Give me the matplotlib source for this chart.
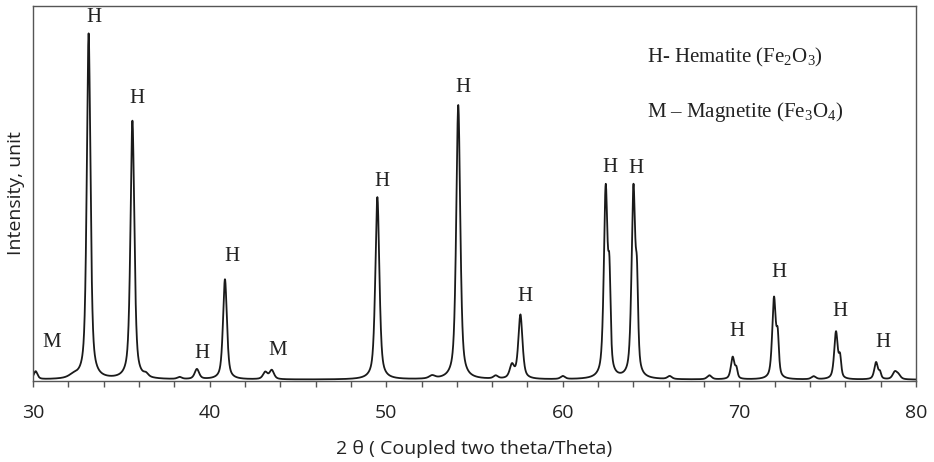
import numpy as np
import matplotlib
matplotlib.use("Agg")
import matplotlib.pyplot as plt

# ---- data ----
# peak positions (2theta, deg), heights (arb. units above baseline), FWHM (deg)
peak_pos = [30.15, 32.3, 33.15, 35.63, 36.4, 38.3, 39.28, 40.87, 43.15, 43.52,
            49.50, 52.6, 54.08, 56.2, 57.12, 57.60, 60.0,
            62.43, 62.64, 64.00, 64.20, 66.05, 68.3,
            69.62, 69.83, 71.96, 72.17, 74.2, 75.47, 75.70,
            77.74, 77.96, 78.8, 79.0]
peak_height = [8, 3, 345, 258, 3, 2, 10, 100, 7, 9,
               182, 3, 274, 3, 13, 64, 3,
               188, 82, 188, 75, 3, 4,
               22, 9, 80, 36, 3, 47, 19,
               17, 6, 7, 4]
peak_fwhm = [0.25, 0.6, 0.25, 0.26, 0.3, 0.3, 0.3, 0.26, 0.3, 0.3,
             0.27, 0.4, 0.27, 0.3, 0.3, 0.28, 0.3,
             0.25, 0.16, 0.25, 0.16, 0.3, 0.3,
             0.24, 0.16, 0.24, 0.16, 0.3, 0.24, 0.16,
             0.24, 0.16, 0.3, 0.3]
baseline = 1.0

label_text = ["M", "H", "H", "H", "H", "M", "H", "H", "H", "H", "H", "H", "H", "H", "H"]
label_x = [31.08, 33.45, 35.91, 39.55, 41.29, 43.86, 49.75, 54.35, 57.86,
           62.67, 64.13, 69.85, 72.24, 75.70, 78.15]
label_y = [37.7, 363.0, 281.7, 26.7, 123.7, 29.7, 199.0, 292.4, 83.7,
           212.7, 211.7, 48.7, 107.7, 68.7, 37.7]

legend_lines = ["H- Hematite (Fe$_2$O$_3$)", "M \u2013 Magnetite (Fe$_3$O$_4$)"]
legend_x = 64.77
legend_y = [322.7, 267.7]

x_major = [30, 40, 50, 60, 70, 80]

# ---- build pattern from peak list (pseudo-Voigt profiles) ----
two_theta = np.linspace(30, 80, 6001)
intensity = np.full_like(two_theta, baseline)
eta = 0.6
for p, h, w in zip(peak_pos, peak_height, peak_fwhm):
    d = (two_theta - p) / (w / 2.0)
    lor = 1.0 / (1.0 + d ** 2)
    gau = np.exp(-np.log(2) * d ** 2)
    intensity += h * (eta * lor + (1 - eta) * gau)

plt.rcParams['mathtext.fontset'] = 'custom'
plt.rcParams['mathtext.rm'] = 'Liberation Serif'
plt.rcParams['mathtext.it'] = 'Liberation Serif:italic'

fig = plt.figure(figsize=(9.34, 4.62), dpi=100)
ax = fig.add_axes([33 / 934, 1 - 380.7 / 462, (916 - 33) / 934, (380.7 - 6) / 462])

ax.plot(two_theta, intensity, color="#1a1a1a", lw=1.3)
ax.set_xlim(30, 80)
ax.set_ylim(0, 374)

ax.set_xticks(x_major)
ax.set_xticks(np.arange(30, 81, 2), minor=True)
ax.set_yticks([])
ax.tick_params(axis='x', which='both', direction='out', length=4, width=1, color="#555555")
ax.tick_params(axis='x', which='major', pad=13, labelsize=14)
for lab in ax.get_xticklabels():
    lab.set_fontfamily("Open Sans")
    lab.set_color("#222222")
for s in ax.spines.values():
    s.set_color("#555555")
    s.set_linewidth(1.0)

ax.set_xlabel("2 \u03b8 ( Coupled two theta/Theta)", family="Open Sans", fontsize=14,
              color="#222222", labelpad=13)
ax.set_ylabel("Intensity, unit", family="Open Sans", fontsize=14, color="#222222", labelpad=6)

for t, x, y in zip(label_text, label_x, label_y):
    ax.text(x, y, t, family="Liberation Serif", fontsize=15, ha="center", va="center",
            color="#222222")

for t, y in zip(legend_lines, legend_y):
    ax.text(legend_x, y, t, family="Liberation Serif", fontsize=15, ha="left", va="center",
            color="#222222")

fig.savefig("out.png", dpi=100)
